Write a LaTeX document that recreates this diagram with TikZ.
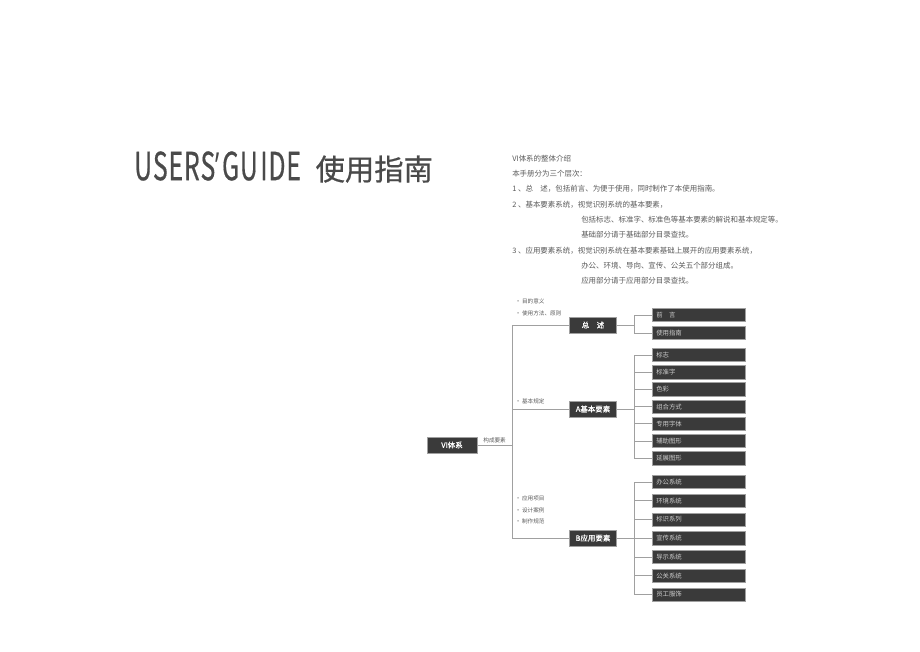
\documentclass[tikz,border=0pt]{standalone}
\usepackage{fontspec}
\setmainfont{Noto Sans CJK SC}
\newfontfamily\titlefont[FakeBold=0.6]{Noto Sans CJK SC}
\newfontfamily\quotefont{Open Sans}
\definecolor{boxgray}{HTML}{3A3A3A}
\definecolor{linegray}{HTML}{A0A0A0}
\definecolor{inkgray}{HTML}{4A4A4A}
\definecolor{txtgray}{HTML}{5A5A5A}
\tikzset{
  leafbox/.style={draw=linegray, fill=boxgray, text=white!80!black, anchor=west,
    text width=63.75pt, inner xsep=3pt, minimum height=10pt, inner ysep=0pt,
    align=left, font=\fontsize{4.8}{5}\selectfont},
  midbox/.style={draw=linegray, fill=boxgray, text=white, minimum width=35pt,
    minimum height=12pt, inner sep=0pt, font=\titlefont\fontsize{5.6}{6}\selectfont},
  tag/.style={anchor=west, text=txtgray, inner sep=0pt, font=\fontsize{4.2}{5}\selectfont},
  para/.style={anchor=west, text=txtgray, inner sep=0pt, font=\fontsize{5.6}{6}\selectfont},
  conn/.style={draw=linegray, line width=0.6pt}
}
\begin{document}
\begin{tikzpicture}[x=0.75pt,y=-0.75pt]
\useasboundingbox (0,0) rectangle (920,651);
\fill[white] (0,0) rectangle (920,651);

\node[anchor=west, inner sep=0pt, text=inkgray] (title) at (134,167)
  {\titlefont\scalebox{0.64}[1]{\fontsize{29}{30}\selectfont U\kern1pt S\kern1pt E\kern1pt R\kern1pt S{\quotefont ’}\kern3pt G\kern1pt U\kern3pt I\kern1pt D\kern1pt E}\hspace{11pt}{\fontsize{22}{24}\selectfont 使用指南}};

\node[para] (p1) at (512,159) {VI体系的整体介绍};
\node[para] (p2) at (512,174) {本手册分为三个层次：};
\node[para] (p3) at (512,189) {1 、总\quad 述，包括前言、为便于使用，同时制作了本使用指南。};
\node[para] (p4) at (512,205) {2 、基本要素系统，视觉识别系统的基本要素，};
\node[para] (p5) at (581,220) {包括标志、标准字、标准色等基本要素的解说和基本规定等。};
\node[para] (p6) at (581,235) {基础部分请于基础部分目录查找。};
\node[para] (p7) at (512,251) {3 、应用要素系统，视觉识别系统在基本要素基础上展开的应用要素系统，};
\node[para] (p8) at (581,266) {办公、环境、导向、宣传、公关五个部分组成。};
\node[para] (p9) at (581,281) {应用部分请于应用部分目录查找。};

\node[midbox, minimum width=37.5pt] (vi) at (452,445) {VI体系};
\node[midbox] (zs) at (593,325) {总\quad 述};
\node[midbox] (ab) at (593,409) {A基本要素};
\node[midbox] (bb) at (593,538) {B应用要素};

\coordinate (t) at (512,445);
\draw[conn] (vi.east) -- (t) node[midway, above=1pt, tag, anchor=south] {构成要素};
\draw[conn] (t) |- (zs.west);
\draw[conn] (t) |- (ab.west);
\draw[conn] (t) |- (bb.west);

\node[tag] (z1) at (515,301) {• 目的意义};
\node[tag] (z2) at (515,313) {• 使用方法、原则};
\node[tag] (a1) at (515,401) {• 基本规定};
\node[tag] (b1) at (515,498) {• 应用项目};
\node[tag] (b2) at (515,510) {• 设计案例};
\node[tag] (b3) at (515,521) {• 制作规范};

\coordinate (jz) at (634,325);
\coordinate (ja) at (634,409);
\coordinate (jb) at (634,538);

\foreach \txt [count=\i] in {前\quad 言,使用指南}
  \node[leafbox] (g1\i) at (652,{315+18*(\i-1)}) {\txt};
\foreach \txt [count=\i] in {标志,标准字,色彩,组合方式,专用字体,辅助图形,延展图形}
  \node[leafbox] (g2\i) at (652,{355+17.2*(\i-1)}) {\txt};
\foreach \txt [count=\i] in {办公系统,环境系统,标识系列,宣传系统,导示系统,公关系统,员工服饰}
  \node[leafbox] (g3\i) at (652,{482+18.75*(\i-1)}) {\txt};

\draw[conn] (zs.east) -- (jz);
\foreach \i in {1,2} \draw[conn] (jz) |- (g1\i.west);
\draw[conn] (ab.east) -- (ja);
\foreach \i in {1,...,7} \draw[conn] (ja) |- (g2\i.west);
\draw[conn] (bb.east) -- (jb);
\foreach \i in {1,...,7} \draw[conn] (jb) |- (g3\i.west);
\end{tikzpicture}
\end{document}
